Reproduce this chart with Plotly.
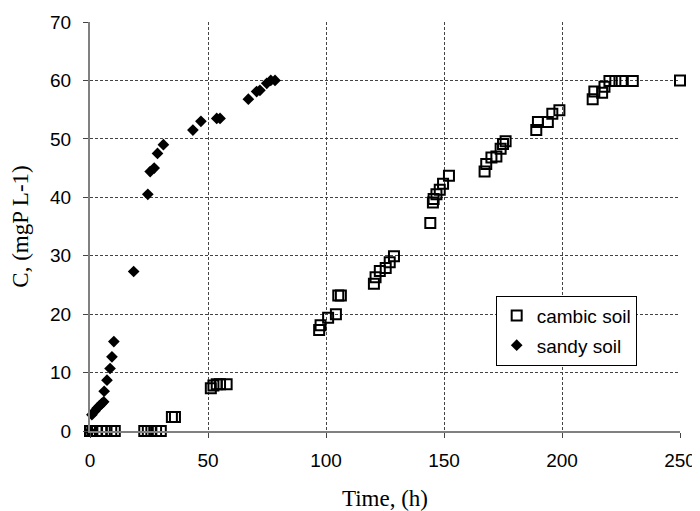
import plotly.graph_objects as go

# cambic soil (open squares)
cambic_t = [0, 1, 3, 5, 7, 9, 10.5, 23, 24.5, 26, 28, 30, 34.7, 36,
            51.2, 52.3, 53.7, 55.1, 57.9,
            97.1, 97.7, 100.9, 104.2, 105.2, 106.3,
            120.3, 121.0, 122.8, 125.3, 127.0, 128.8,
            144.2, 145.3, 145.6, 146.8, 148.2, 149.6, 152.1,
            167.2, 167.9, 170.1, 172.2, 174.0, 175.0, 176.1,
            189.1, 189.8, 194.0, 195.9, 198.9,
            213.0, 213.7, 217.0, 218.0, 220.1, 222.6, 225.3, 230.0, 250.0]
cambic_c = [0, 0, 0, 0, 0, 0, 0, 0, 0, 0, 0, 0, 2.4, 2.4,
            7.3, 7.8, 8.0, 8.0, 8.0,
            17.3, 18.1, 19.4, 20.0, 23.2, 23.2,
            25.2, 26.3, 27.4, 27.9, 28.9, 29.9,
            35.6, 39.1, 39.7, 40.5, 41.3, 42.3, 43.7,
            44.4, 45.7, 46.8, 47.0, 48.3, 49.1, 49.6,
            51.5, 52.9, 52.9, 54.3, 54.9,
            56.8, 58.1, 57.9, 58.9, 59.9, 59.9, 59.9, 59.9, 60.0]

# sandy soil (filled diamonds)
sandy_t = [0, 0.8, 2, 3, 4, 5, 5.8, 6.0, 7.2, 8.5, 9.3, 10.1, 18.5,
           24.5, 25.5, 27.2, 28.6, 31.1, 43.6, 47.0, 53.7, 55.1,
           67.1, 70.6, 72.0, 74.9, 76.6, 78.4]
sandy_c = [0, 2.8, 3.4, 3.9, 4.3, 4.7, 5.0, 6.8, 8.7, 10.7, 12.7, 15.3, 27.3,
           40.5, 44.4, 45.0, 47.5, 49.0, 51.5, 53.0, 53.5, 53.5,
           56.8, 58.1, 58.3, 59.5, 60.0, 60.0]

x_ticks = [0, 50, 100, 150, 200, 250]
y_ticks = [0, 10, 20, 30, 40, 50, 60, 70]

fig = go.Figure()
fig.add_trace(go.Scatter(
    x=cambic_t, y=cambic_c, mode="markers", name="cambic soil",
    legendgroup="a", cliponaxis=False,
    marker=dict(symbol="square-open", size=10, color="black",
                line=dict(width=2, color="black")),
))
fig.add_trace(go.Scatter(
    x=sandy_t, y=sandy_c, mode="markers", name="sandy soil",
    legendgroup="b", cliponaxis=False,
    marker=dict(symbol="diamond", size=9, color="black",
                line=dict(width=0)),
))

axis_font = dict(family="Liberation Sans, Arial", size=19, color="black")
title_font = dict(family="Liberation Serif, Times New Roman", size=23, color="black")
# page body has an 8px margin, so the figure is 8px smaller and margins shifted
fig.update_layout(
    width=692, height=503,
    margin=dict(l=82, r=20, t=14, b=80, autoexpand=False),
    paper_bgcolor="white", plot_bgcolor="white",
    showlegend=True,
    legend=dict(x=0.6876, y=0.331, xanchor="left", yanchor="top",
                bordercolor="black", borderwidth=1, bgcolor="white",
                tracegroupgap=2,
                font=dict(family="Liberation Sans, Arial", size=19, color="black"),
                itemsizing="trace"),
    xaxis=dict(range=[0, 250], tickvals=x_ticks, showgrid=True,
               gridcolor="#444", griddash="3px,2px", gridwidth=1,
               showline=True, linecolor="#808080", linewidth=2,
               ticks="outside", ticklen=5, tickcolor="#444",
               zeroline=False, tickfont=axis_font, automargin=False,
               ticklabelstandoff=6,
               title=dict(text="Time, (h)", standoff=20, font=title_font)),
    yaxis=dict(range=[0, 70], tickvals=y_ticks, showgrid=True,
               gridcolor="#444", griddash="3px,2px", gridwidth=1,
               showline=True, linecolor="#808080", linewidth=2,
               ticks="outside", ticklen=5, tickcolor="#444",
               zeroline=False, tickfont=axis_font, automargin=False,
               ticklabelstandoff=8,
               title=dict(text="C, (mgP L-1)", standoff=25, font=title_font)),
)

fig.write_html("out.html")
